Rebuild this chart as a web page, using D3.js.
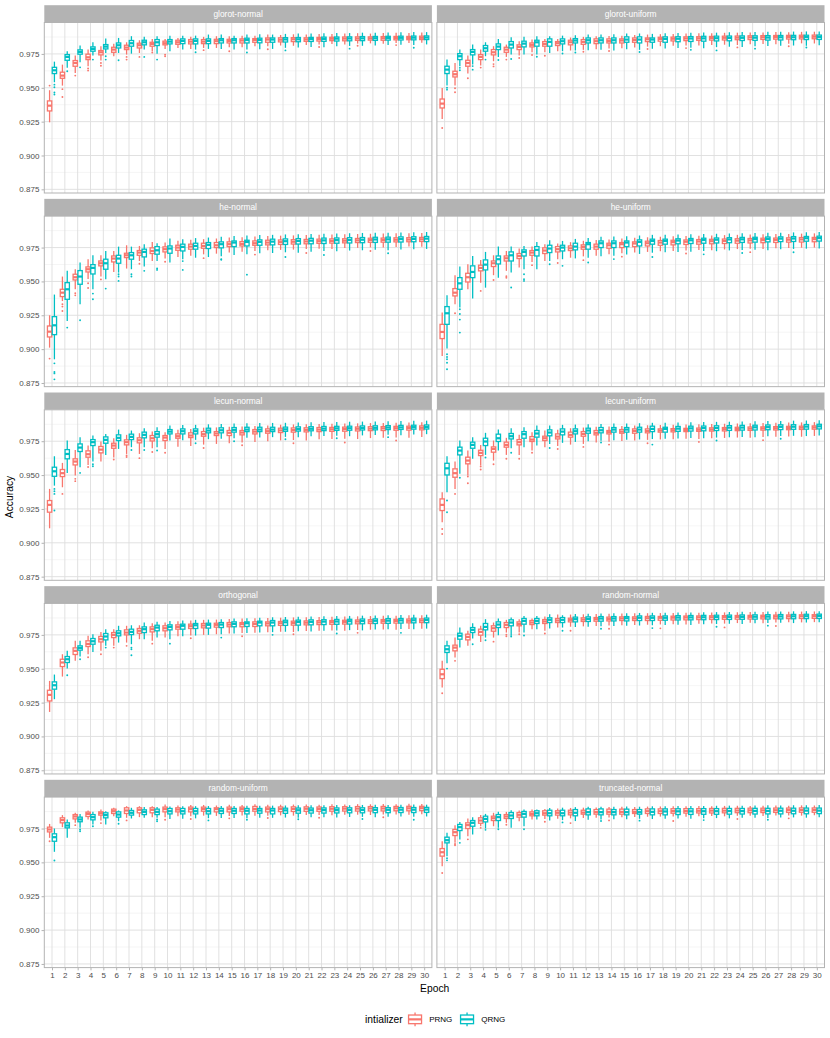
<html>
<head>
<script src="https://d3js.org/d3.v7.min.js"></script>
<style>
  body { margin: 0; background: #fff; }
  text { font-family: "Liberation Sans", Arial, Helvetica, sans-serif; }
</style>
</head>
<body>
<div id="chart"></div>
<script>
// accuracy values are written x1000; each box is [lower whisker, q1, median, q3, upper whisker]
const epochs = [1,2,3,4,5,6,7,8,9,10,11,12,13,14,15,16,17,18,19,20,21,22,23,24,25,26,27,28,29,30];
const seriesNames = ["PRNG", "QRNG"];
const seriesColors = ["#F8766D", "#00BFC4"];
const yMajor = [0.875, 0.900, 0.925, 0.950, 0.975];
const yMinor = [0.8875, 0.9125, 0.9375, 0.9625, 0.9875];

const glorotNormalPRNG = [
[924.5,932.9,936.8,940.3,948.2],[951.6,957.0,959.0,961.5,967.1],[961.0,965.9,968.3,970.1,973.8],[965.9,970.8,972.5,974.8,978.2],[970.1,974.3,976.2,977.5,980.7],
[973.3,976.2,978.2,979.9,982.6],[974.5,978.2,979.7,981.4,983.6],[975.7,979.4,981.4,982.9,985.1],[977.0,980.7,982.4,983.6,986.1],[978.7,981.7,982.9,984.4,986.1],
[979.4,982.1,983.6,985.1,986.8],[978.7,982.4,984.1,985.6,987.6],[979.4,982.6,984.1,985.6,987.6],[979.4,982.6,984.4,985.8,988.1],[979.9,983.1,984.6,985.8,988.1],
[979.9,983.1,984.9,986.1,988.5],[980.7,983.6,985.3,986.3,988.5],[980.7,983.6,985.6,986.8,989.3],[981.2,983.9,985.5,986.9,989.0],[981.0,984.1,985.8,987.0,989.5],
[981.6,984.3,985.7,986.9,989.4],[981.9,984.5,986.0,987.2,989.8],[982.3,984.8,986.2,987.3,989.7],[982.0,984.7,986.3,987.5,990.1],[982.6,985.0,986.4,987.6,990.3],
[982.8,985.2,986.5,987.6,990.0],[982.5,985.1,986.6,987.8,990.4],[983.1,985.4,986.8,987.9,990.6],[983.0,985.5,986.7,987.9,990.5],[983.3,985.6,986.9,988.1,990.8]];
const glorotNormalQRNG = [
[954.1,960.5,962.9,965.1,969.3],[964.7,970.3,972.8,974.5,977.0],[968.8,974.8,976.5,978.0,981.2],[973.8,977.0,978.7,980.2,983.6],[975.7,978.7,980.4,981.9,986.3],
[975.7,979.4,981.4,983.1,986.8],[975.2,980.7,982.9,984.9,988.1],[978.2,981.7,983.6,985.1,987.6],[975.2,981.2,983.6,985.6,988.1],[977.0,982.4,984.1,985.6,988.5],
[978.2,982.6,984.6,986.1,988.5],[978.2,982.4,984.6,986.1,988.5],[978.7,982.6,984.6,986.1,989.3],[978.7,983.1,985.1,986.3,989.3],[978.2,983.1,985.1,986.3,988.5],
[978.2,983.1,985.3,986.6,989.3],[978.4,983.2,985.3,986.6,989.5],[978.7,983.6,985.6,986.8,989.3],[979.5,983.8,985.7,987.0,989.8],[979.8,984.0,985.8,987.1,990.0],
[980.2,984.2,986.0,987.2,990.1],[980.0,984.3,986.1,987.4,990.2],[980.6,984.5,986.3,987.5,990.5],[980.9,984.7,986.4,987.6,990.4],[981.0,984.8,986.5,987.8,990.7],
[981.3,985.0,986.6,987.9,990.6],[981.5,985.2,986.8,988.0,990.9],[981.7,985.3,986.9,988.1,991.0],[981.6,985.4,987.0,988.2,991.2],[982.0,985.6,987.1,988.3,991.1]];
const glorotNormalPRNGOut = [[1,951.6],[2,949.0],[2,943.2],[3,959.0],[4,964.2],[4,962.7],[5,968.3],[5,966.3],[7,972.8],[7,970.8],[8,972.8],[9,976.0],[10,974.5],[10,973.3],[13,977.8],[15,977.0],[18,978.5],[22,980.1],[25,981.0],[28,981.5]];
const glorotNormalQRNGOut = [[1,952.3],[1,950.4],[1,946.5],[1,945.0],[2,962.2],[3,965.1],[4,970.8],[5,973.3],[5,970.8],[6,970.3],[8,972.8],[9,970.8],[12,976.2],[16,976.0],[19,977.6],[24,978.9],[29,979.6]];

const glorotUniformPRNG = [
[927.0,935.1,938.3,941.7,949.8],[951.6,958.0,960.0,962.2,968.3],[960.5,965.9,968.3,970.3,973.8],[966.4,970.8,972.8,974.5,978.2],[969.6,974.3,976.2,978.2,980.7],
[972.8,976.2,978.2,979.9,981.9],[973.8,978.2,980.2,981.7,984.4],[976.2,980.2,981.7,983.1,985.6],[976.2,980.7,982.4,984.1,986.1],[977.0,981.2,982.9,984.1,986.1],
[977.5,981.7,983.6,985.1,987.1],[978.0,982.1,983.9,985.6,987.6],[978.5,982.6,984.4,986.1,988.1],[979.0,983.1,984.6,986.1,988.3],[979.2,983.1,984.9,986.1,988.5],
[979.8,983.6,985.3,986.8,989.0],[980.4,984.1,985.8,986.8,989.3],[980.7,984.4,986.1,987.3,989.6],[981.0,984.6,986.2,987.4,989.8],[981.2,984.8,986.4,987.6,990.0],
[981.3,985.0,986.5,987.7,990.2],[981.6,985.2,986.7,987.9,990.3],[981.8,985.3,986.9,988.1,990.6],[981.6,985.5,987.0,988.2,990.7],[982.1,985.6,987.2,988.4,990.9],
[982.4,985.7,987.3,988.5,990.8],[982.2,985.9,987.4,988.6,991.1],[982.6,986.0,987.5,988.7,991.0],[982.8,986.1,987.6,988.8,991.3],[982.7,986.2,987.7,988.9,991.4]];
const glorotUniformQRNG = [
[951.6,960.5,963.4,965.9,970.8],[965.9,970.8,973.3,975.2,978.2],[967.1,974.3,976.5,978.2,981.9],[973.3,977.0,979.2,981.2,983.6],[972.8,978.2,980.4,982.4,986.1],
[974.5,979.4,981.9,984.1,987.3],[974.5,980.2,982.6,984.4,987.6],[974.5,980.7,983.6,985.1,988.1],[975.7,980.7,983.9,986.1,988.1],[977.0,982.4,984.4,986.1,988.5],
[977.5,983.1,984.9,986.3,988.8],[977.8,983.1,985.1,986.8,989.3],[978.0,983.1,985.1,986.8,989.3],[977.5,983.1,985.1,986.8,989.5],[978.5,983.6,985.6,987.6,990.0],
[978.0,983.1,985.6,987.6,990.1],[978.8,983.6,985.6,986.8,989.8],[979.0,983.6,986.1,987.6,990.3],[979.3,984.0,986.2,987.7,990.4],[979.5,984.2,986.4,987.8,990.6],
[979.2,984.4,986.5,988.0,990.8],[980.0,984.6,986.6,988.1,990.7],[980.3,984.7,986.8,988.2,991.0],[980.1,984.9,986.9,988.3,991.1],[980.6,985.0,987.0,988.4,991.2],
[980.8,985.2,987.1,988.5,991.4],[981.0,985.3,987.3,988.6,991.3],[981.2,985.5,987.3,988.7,991.5],[981.0,985.6,987.4,988.8,991.6],[981.4,985.7,987.5,988.9,991.5]];
const glorotUniformPRNGOut = [[1,920.3],[2,949.6],[2,946.7],[3,957.0],[4,964.9],[5,967.5],[5,965.8],[6,970.8],[7,972.0],[8,974.2],[9,973.6],[12,976.6],[14,977.2],[17,978.6],[20,979.3],[24,979.8],[28,980.7]];
const glorotUniformQRNGOut = [[1,950.0],[1,948.6],[2,964.7],[2,962.9],[3,966.0],[3,963.4],[4,970.8],[5,970.5],[6,971.2],[8,972.9],[10,975.3],[11,976.1],[16,976.4],[20,978.0],[22,977.6],[25,978.9],[29,979.7]];

const heNormalPRNG = [
[901.1,909.0,912.9,917.1,925.0],[935.5,938.8,941.7,944.2,953.6],[944.2,951.1,953.1,955.3,959.0],[951.8,957.0,959.0,960.7,966.4],[953.6,961.5,963.4,965.1,969.3],
[957.0,964.4,966.9,968.8,972.5],[959.5,967.6,969.3,970.8,976.7],[965.1,969.3,971.3,972.8,976.2],[965.1,970.6,972.5,974.8,979.2],[966.9,971.8,973.8,975.5,978.7],
[968.0,973.0,975.0,976.7,980.0],[969.0,973.8,975.7,977.5,980.7],[970.0,974.5,976.2,978.2,981.2],[970.5,975.0,976.7,978.7,981.7],[971.3,975.7,977.5,979.2,982.4],
[972.0,976.2,977.7,979.4,982.6],[972.4,976.7,978.2,979.9,983.1],[973.0,977.0,978.7,980.4,983.6],[973.3,977.3,979.0,980.6,983.8],[973.5,977.6,979.3,980.8,984.0],
[973.9,977.8,979.5,981.0,984.3],[974.2,978.1,979.7,981.2,984.5],[974.0,978.3,979.9,981.4,984.6],[974.6,978.5,980.1,981.5,984.8],[974.8,978.7,980.3,981.7,985.0],
[975.1,978.9,980.5,981.9,985.2],[975.0,979.0,980.6,982.0,985.3],[975.4,979.2,980.8,982.2,985.5],[975.7,979.3,980.9,982.3,985.6],[975.6,979.5,981.1,982.5,985.8]];
const heNormalQRNG = [
[892.5,910.7,917.6,924.0,940.3],[920.8,936.8,944.2,949.1,957.8],[933.1,947.9,953.6,958.0,963.9],[944.2,955.5,960.0,962.4,969.3],[951.6,959.0,963.4,966.4,972.5],
[956.5,963.4,966.9,969.3,975.7],[959.0,966.4,969.3,971.3,975.7],[961.0,968.1,971.8,973.8,977.5],[965.1,970.1,973.0,975.7,978.2],[963.9,970.8,974.3,976.2,981.7],
[966.4,972.5,975.5,977.5,981.2],[967.5,973.8,976.2,978.2,982.0],[968.0,974.3,977.0,978.7,982.4],[968.5,974.8,977.5,979.2,982.9],[969.5,975.7,978.7,979.9,983.6],
[970.0,976.2,979.2,980.4,984.0],[970.8,976.7,979.2,980.7,984.2],[971.0,977.0,979.4,981.2,984.4],[971.5,977.3,979.7,981.4,984.7],[971.2,977.6,979.9,981.6,984.9],
[972.0,977.8,980.1,981.8,985.1],[972.4,978.0,980.3,982.0,985.2],[972.2,978.2,980.5,982.1,985.4],[972.8,978.4,980.6,982.3,985.6],[973.0,978.6,980.8,982.4,985.8],
[973.3,978.8,981.0,982.6,985.9],[973.1,979.0,981.1,982.7,986.0],[973.6,979.1,981.3,982.9,986.2],[973.8,979.3,981.4,983.0,986.3],[974.0,979.4,981.6,983.2,986.5]];
const heNormalPRNGOut = [[1,893.0],[2,933.1],[2,931.4],[2,928.2],[3,941.3],[3,939.7],[4,948.6],[4,945.2],[5,951.5],[8,963.0],[10,964.5],[13,967.2],[17,969.8],[21,971.0],[26,972.5]];
const heNormalQRNGOut = [[1,889.5],[1,883.1],[1,882.1],[1,877.7],[2,915.9],[3,921.3],[4,941.0],[4,936.8],[5,944.7],[6,955.3],[6,953.6],[6,950.4],[7,955.3],[7,953.6],[8,957.8],[9,959.5],[9,958.5],[11,965.0],[11,958.5],[14,966.5],[14,966.0],[16,955.0],[19,968.0],[22,969.5],[27,970.8]];

const heUniformPRNG = [
[895.0,907.8,912.7,918.3,927.0],[933.1,939.3,941.7,944.7,954.6],[944.2,949.6,953.1,956.0,962.7],[949.1,957.8,960.0,962.0,965.9],[954.6,961.0,963.4,965.1,969.3],
[957.8,965.1,967.1,968.8,972.5],[960.2,966.9,968.8,970.6,974.3],[964.4,969.3,971.3,972.8,975.7],[965.1,970.6,972.8,974.8,977.5],[966.4,971.8,973.8,975.7,978.0],
[967.5,972.8,974.5,976.2,979.0],[968.5,973.8,975.5,977.0,980.0],[969.0,973.8,975.7,977.5,980.5],[970.0,974.5,976.7,978.2,981.0],[970.8,975.0,977.5,978.7,981.7],
[971.3,975.7,978.0,979.2,982.2],[971.8,976.2,978.2,979.7,982.6],[972.3,976.7,978.7,980.2,983.0],[972.5,977.0,979.0,980.4,983.3],[972.9,977.3,979.3,980.6,983.5],
[973.2,977.5,979.5,980.9,983.8],[973.0,977.8,979.7,981.1,984.0],[973.6,978.0,979.9,981.3,984.2],[973.9,978.2,980.1,981.5,984.4],[974.2,978.4,980.3,981.7,984.6],
[974.0,978.6,980.5,981.9,984.8],[974.5,978.8,980.7,982.0,985.0],[974.7,979.0,980.8,982.2,985.1],[974.9,979.1,981.0,982.4,985.3],[975.0,979.3,981.2,982.5,985.5]];
const heUniformQRNG = [
[900.4,918.3,926.5,931.4,939.8],[930.7,944.2,948.6,952.8,961.0],[937.3,952.8,957.0,961.5,968.8],[945.4,958.5,962.4,965.9,971.8],[952.8,962.9,966.4,968.8,975.7],
[956.5,965.1,969.3,971.8,975.7],[959.0,968.8,971.8,973.3,976.2],[959.0,968.8,973.3,975.7,979.2],[965.1,971.3,974.3,976.7,980.4],[966.4,972.5,975.0,976.7,979.9],
[967.0,973.3,975.7,978.2,981.4],[967.5,973.8,977.5,978.7,982.0],[968.5,975.0,978.2,979.9,983.0],[969.0,975.0,978.2,979.9,983.1],[969.8,975.7,978.7,979.9,983.4],
[970.3,976.2,979.2,980.7,983.9],[971.2,977.5,979.9,981.2,984.4],[971.5,977.5,979.9,981.2,984.5],[971.8,977.8,980.2,981.5,984.7],[972.0,978.0,980.4,981.7,984.9],
[972.5,978.2,980.6,981.9,985.0],[972.3,978.4,980.8,982.1,985.2],[972.9,978.6,981.0,982.3,985.4],[973.2,978.8,981.1,982.5,985.5],[973.4,979.0,981.3,982.6,985.7],
[973.0,979.2,981.4,982.8,985.9],[973.8,979.4,981.6,982.9,986.0],[974.0,979.5,981.7,983.1,986.2],[974.2,979.7,981.9,983.2,986.3],[974.4,979.8,982.0,983.4,986.5]];
const heUniformPRNGOut = [[2,926.5],[4,943.0],[5,951.0],[6,953.9],[6,952.7],[8,962.0],[10,963.6],[12,965.7],[15,968.3],[20,970.6],[25,971.6]];
const heUniformQRNGOut = [[1,896.2],[1,894.2],[1,892.5],[1,890.0],[1,885.1],[2,929.4],[2,926.0],[2,921.8],[2,912.2],[6,945.5],[7,955.3],[7,951.6],[7,950.4],[9,962.7],[10,961.5],[12,964.0],[14,966.5],[17,968.0],[21,970.0],[24,971.0],[28,971.5]];

const lecunNormalPRNG = [
[910.7,922.6,928.0,931.2,939.8],[941.0,948.9,951.4,954.1,959.0],[949.6,957.5,960.0,962.0,968.6],[957.5,963.2,965.4,967.9,971.8],[960.0,966.4,968.8,971.1,974.8],
[962.9,969.8,971.8,973.5,977.2],[965.6,972.3,974.3,976.0,979.7],[965.6,973.8,975.7,977.5,980.9],[969.8,975.2,977.2,979.2,982.1],[969.3,975.5,977.7,979.2,981.7],
[971.0,977.2,978.7,980.4,983.4],[971.5,977.7,979.2,981.2,984.0],[972.5,978.7,980.2,982.1,985.0],[973.0,979.2,980.7,982.1,985.2],[973.5,979.2,981.2,982.9,985.6],
[974.0,979.7,981.4,982.9,985.8],[974.5,980.4,982.1,983.6,986.3],[975.0,980.9,982.4,984.1,986.6],[975.6,981.4,983.0,984.6,987.2],[975.9,981.7,983.2,984.8,987.4],
[975.6,981.9,983.4,984.9,987.6],[976.4,982.1,983.6,985.1,987.7],[976.7,982.3,983.8,985.2,987.9],[976.9,982.4,984.0,985.4,988.1],[976.6,982.6,984.2,985.5,988.2],
[977.3,982.8,984.3,985.7,988.4],[977.5,982.9,984.5,985.8,988.5],[977.8,983.1,984.6,986.0,988.7],[977.6,983.2,984.8,986.1,988.9],[978.1,983.4,984.9,986.3,989.0]];
const lecunNormalQRNG = [
[942.2,949.1,952.8,955.8,963.9],[951.6,962.0,965.6,968.8,975.5],[955.8,967.4,970.3,973.0,978.0],[960.0,971.8,974.3,976.2,979.2],[964.9,973.5,976.0,978.2,980.4],
[969.3,975.5,977.5,979.7,983.6],[970.6,976.2,978.2,980.2,982.9],[970.6,977.5,979.7,981.7,984.6],[970.6,978.0,980.2,982.1,985.3],[975.5,980.4,982.1,983.6,986.6],
[975.8,980.4,982.4,984.1,987.0],[976.0,980.4,982.4,984.1,987.1],[976.5,981.2,982.9,984.6,987.5],[976.8,981.2,983.1,984.9,987.7],[977.2,981.7,983.4,985.1,988.0],
[977.5,982.1,983.6,985.3,988.2],[977.8,982.1,983.6,985.3,988.4],[978.0,982.1,983.6,985.3,988.5],[978.2,982.3,983.8,985.4,988.6],[978.0,982.5,984.0,985.6,988.8],
[978.6,982.7,984.2,985.7,989.0],[978.8,982.8,984.3,985.9,989.1],[979.0,983.0,984.5,986.0,989.2],[978.7,983.1,984.6,986.1,989.4],[979.3,983.3,984.8,986.3,989.5],
[979.5,983.4,984.9,986.4,989.6],[979.7,983.6,985.1,986.5,989.8],[979.4,983.7,985.2,986.7,989.9],[980.0,983.9,985.4,986.8,990.1],[980.2,984.0,985.5,987.0,990.2]];
const lecunNormalPRNGOut = [[2,936.1],[3,947.2],[3,945.5],[4,956.0],[6,961.5],[7,964.4],[7,963.4],[8,962.5],[9,967.0],[10,966.5],[13,970.0],[16,972.0],[20,973.5],[24,974.0],[28,975.5]];
const lecunNormalQRNGOut = [[1,939.8],[1,938.1],[1,936.1],[1,923.8],[3,951.6],[4,958.0],[4,956.5],[7,968.5],[8,968.5],[9,968.2],[12,973.5],[15,975.0],[19,976.4],[23,977.2],[27,978.0]];

const lecunUniformPRNG = [
[915.1,923.8,928.0,932.4,937.3],[939.8,948.4,951.4,954.6,960.0],[949.6,958.3,960.7,963.2,968.1],[957.0,964.4,966.4,968.3,972.3],[960.7,966.9,969.3,970.8,975.5],
[964.9,970.6,972.3,974.3,977.5],[964.9,972.3,974.3,976.2,979.7],[968.1,974.8,976.2,978.4,981.7],[970.6,975.5,977.2,978.7,982.9],[971.5,976.7,978.4,980.4,983.4],
[972.5,978.0,979.7,981.7,984.6],[973.0,978.7,980.4,982.1,985.1],[974.0,979.7,981.2,982.9,985.6],[974.6,980.4,981.7,982.9,985.9],[975.2,980.9,982.1,983.6,986.3],
[975.6,980.9,982.6,984.1,986.6],[976.0,981.2,982.6,984.1,986.8],[976.3,981.7,982.9,984.1,987.0],[976.5,981.9,983.1,984.3,987.2],[976.8,982.1,983.3,984.5,987.4],
[976.6,982.3,983.5,984.7,987.6],[977.2,982.5,983.7,984.9,987.7],[977.4,982.6,983.9,985.1,987.9],[977.7,982.8,984.1,985.3,988.1],[977.5,983.0,984.3,985.5,988.3],
[978.1,983.2,984.5,985.6,988.4],[978.3,983.3,984.6,985.8,988.6],[978.5,983.5,984.8,986.0,988.8],[978.3,983.7,985.0,986.1,988.9],[978.9,983.9,985.2,986.3,989.1]];
const lecunUniformQRNG = [
[937.3,950.1,955.0,958.7,963.9],[950.9,964.9,968.1,970.6,975.5],[962.0,969.8,972.3,974.3,978.0],[964.9,971.8,974.8,977.2,981.2],[968.1,974.8,977.2,980.2,983.6],
[969.8,976.7,978.7,980.7,984.6],[970.6,977.2,980.2,982.1,985.3],[971.8,978.0,980.7,982.9,986.6],[973.0,979.0,981.4,983.4,986.6],[973.8,979.7,982.1,984.1,987.1],
[974.5,980.4,982.4,984.1,987.3],[975.0,980.9,982.9,984.6,987.6],[975.4,981.2,983.1,985.1,987.8],[975.8,981.7,983.6,985.1,988.0],[976.0,981.7,983.6,985.1,988.1],
[976.3,981.7,983.6,985.3,988.3],[976.6,982.1,984.1,986.1,988.6],[976.8,981.7,984.1,985.3,988.6],[977.0,982.3,984.3,985.9,988.8],[977.3,982.5,984.5,986.1,989.0],
[977.1,982.7,984.7,986.2,989.1],[977.7,982.9,984.8,986.4,989.3],[977.9,983.0,985.0,986.5,989.4],[978.2,983.2,985.1,986.7,989.6],[978.0,983.3,985.3,986.8,989.7],
[978.6,983.5,985.4,987.0,989.9],[978.8,983.6,985.6,987.1,990.0],[979.0,983.8,985.7,987.2,990.2],[978.8,983.9,985.8,987.3,990.3],[979.3,984.1,986.0,987.5,990.5]];
const lecunUniformPRNGOut = [[1,910.2],[1,906.5],[2,936.1],[3,948.9],[3,944.0],[4,956.3],[4,954.1],[5,958.0],[6,962.0],[7,962.0],[8,966.5],[10,969.2],[12,970.8],[14,972.5],[17,973.5],[21,974.5],[26,975.8]];
const lecunUniformQRNGOut = [[1,931.2],[1,922.5],[2,948.0],[4,963.0],[6,966.5],[9,970.0],[13,974.0],[17,972.5],[22,975.5],[27,976.8]];

const orthogonalPRNG = [
[918.1,926.2,930.7,934.1,941.0],[944.2,951.6,954.6,957.0,960.7],[955.8,960.5,963.2,965.4,970.6],[960.7,966.4,968.3,970.6,974.3],[963.2,969.8,971.8,973.8,977.2],
[966.9,973.0,975.0,976.7,979.2],[969.3,975.0,976.7,978.7,981.7],[971.8,976.2,978.0,979.7,982.1],[970.6,977.2,979.2,980.9,983.6],[973.0,978.0,979.9,981.7,984.1],
[974.0,979.2,980.9,982.4,985.1],[974.5,979.7,981.4,982.9,985.6],[975.0,980.2,981.9,983.4,986.1],[975.5,980.7,982.4,983.6,986.3],[976.0,981.0,982.6,984.1,986.8],
[976.3,981.0,982.9,984.1,987.0],[976.6,981.2,983.1,984.6,987.3],[977.0,981.7,983.4,984.6,987.5],[977.3,982.0,983.6,984.9,987.7],[977.1,982.2,983.8,985.1,987.9],
[977.8,982.4,984.0,985.3,988.1],[978.0,982.6,984.2,985.5,988.2],[978.2,982.8,984.4,985.6,988.4],[978.0,983.0,984.6,985.8,988.6],[978.6,983.2,984.8,986.0,988.7],
[978.8,983.4,984.9,986.2,988.9],[979.0,983.6,985.1,986.3,989.1],[978.8,983.7,985.3,986.5,989.2],[979.4,983.9,985.4,986.7,989.4],[979.6,984.1,985.6,986.8,989.5]];
const orthogonalQRNG = [
[927.5,934.9,937.8,940.3,945.7],[950.1,954.6,957.0,959.0,963.2],[959.0,963.7,965.4,966.9,970.6],[962.4,968.1,970.3,972.3,975.5],[966.9,971.3,973.8,976.0,979.2],
[969.3,974.3,976.2,978.0,981.7],[968.1,975.2,977.2,979.2,982.1],[971.8,976.7,979.2,980.9,984.1],[973.0,978.0,980.4,982.1,984.6],[971.8,978.7,980.9,982.4,985.3],
[974.0,979.2,981.7,982.9,985.6],[974.5,979.7,982.1,983.4,986.1],[975.0,980.0,982.4,983.6,986.3],[975.5,980.4,982.6,984.1,986.6],[976.0,981.0,983.1,984.6,987.1],
[976.4,981.2,983.6,984.6,987.3],[976.8,981.7,984.1,985.1,987.6],[977.0,981.7,984.1,985.6,988.0],[977.3,982.0,984.3,985.8,988.2],[977.6,982.2,984.5,985.9,988.4],
[977.4,982.4,984.6,986.1,988.5],[978.0,982.6,984.8,986.2,988.7],[978.2,982.8,984.9,986.4,988.9],[978.5,983.0,985.1,986.5,989.0],[978.3,983.2,985.2,986.7,989.2],
[978.9,983.4,985.4,986.8,989.3],[979.1,983.5,985.5,987.0,989.5],[979.3,983.7,985.7,987.1,989.6],[979.1,983.9,985.8,987.3,989.8],[979.6,984.0,986.0,987.4,989.9]];
const orthogonalPRNGOut = [[4,958.5],[5,960.7],[6,965.6],[7,966.9],[9,968.5],[12,972.5],[16,974.0],[20,975.5],[25,976.5]];
const orthogonalQRNGOut = [[2,945.2],[3,957.0],[5,965.6],[7,965.6],[7,964.4],[7,959.9],[10,968.5],[14,973.0],[18,975.0],[23,976.0],[28,976.5]];

const randomNormalPRNG = [
[936.1,942.7,945.9,949.6,955.8],[958.3,963.2,965.6,967.4,973.0],[966.9,971.3,973.5,975.5,978.0],[969.8,974.8,977.2,979.2,981.7],[973.0,977.7,979.9,981.7,984.1],
[976.7,980.4,982.4,984.1,986.1],[976.7,981.7,983.1,984.6,986.6],[979.2,982.6,984.1,985.6,987.1],[978.0,983.4,984.9,986.3,988.5],[980.4,984.1,985.6,987.1,990.1],
[981.0,984.6,986.1,987.3,990.0],[981.3,984.9,986.3,987.6,990.2],[981.6,985.1,986.6,987.8,990.4],[981.9,985.3,986.8,988.1,990.6],[982.1,985.6,987.1,988.3,990.8],
[982.3,985.6,987.1,988.3,990.9],[982.5,985.6,987.3,988.6,991.0],[982.7,985.8,987.6,988.6,991.1],[982.9,986.0,987.7,988.8,991.2],[982.7,986.1,987.8,988.9,991.3],
[983.2,986.3,987.9,989.0,991.4],[983.4,986.4,988.0,989.1,991.5],[983.3,986.5,988.1,989.2,991.6],[983.7,986.6,988.2,989.3,991.7],[983.9,986.7,988.3,989.4,991.8],
[983.6,986.8,988.4,989.5,991.9],[984.1,986.9,988.5,989.6,992.0],[984.3,987.0,988.6,989.7,992.1],[984.2,987.1,988.7,989.8,992.2],[984.4,987.2,988.8,989.9,992.3]];
const randomNormalQRNG = [
[954.1,962.0,964.4,966.9,970.6],[965.6,971.8,974.3,976.2,980.4],[972.3,976.7,978.7,980.4,983.6],[973.0,978.7,980.9,983.4,986.6],[974.8,980.4,982.6,984.6,987.1],
[974.3,981.7,984.1,986.1,987.8],[976.7,982.9,985.3,987.1,989.0],[979.2,983.4,985.3,987.1,989.0],[979.7,984.1,986.1,987.6,990.3],[980.4,984.1,986.1,987.8,989.5],
[980.8,984.6,986.6,988.1,990.4],[981.0,984.9,986.8,988.3,990.6],[981.3,985.1,987.1,988.5,990.8],[981.5,985.3,987.1,988.5,990.9],[981.7,985.3,987.3,988.5,991.0],
[981.9,985.6,987.6,989.0,991.2],[982.1,985.6,987.6,989.0,991.3],[982.3,985.8,987.6,989.0,991.4],[982.5,986.0,987.8,989.2,991.5],[982.3,986.1,987.9,989.3,991.6],
[982.8,986.2,988.0,989.4,991.7],[983.0,986.3,988.1,989.5,991.8],[983.2,986.4,988.2,989.6,991.9],[983.0,986.5,988.3,989.7,992.0],[983.5,986.6,988.4,989.8,992.1],
[983.7,986.7,988.5,989.9,992.2],[983.9,986.8,988.6,990.0,992.3],[983.7,986.9,988.7,990.1,992.4],[984.1,987.0,988.8,990.2,992.5],[984.3,987.1,988.9,990.3,992.5]];
const randomNormalPRNGOut = [[1,931.9],[2,955.8],[5,970.0],[6,975.2],[6,974.0],[7,975.5],[9,976.0],[11,978.0],[14,979.5],[18,979.8],[23,980.5],[27,981.5]];
const randomNormalQRNGOut = [[1,950.1],[3,968.1],[4,971.0],[6,973.8],[7,974.5],[10,978.0],[13,979.5],[17,980.0],[22,981.0],[26,981.8]];

const randomUniformPRNG = [
[968.1,972.5,974.3,976.0,978.4],[976.0,979.2,981.2,982.9,984.9],[979.2,982.1,983.9,985.3,986.6],[981.7,983.9,985.8,987.1,988.3],[980.9,984.9,986.3,987.3,989.0],
[984.1,986.1,987.8,989.3,990.3],[982.9,986.1,988.3,990.3,991.5],[983.4,986.6,988.8,990.3,991.5],[983.4,986.6,988.8,990.3,991.5],[983.4,987.3,989.3,990.8,992.7],
[984.0,987.3,989.0,990.3,992.0],[984.0,987.3,989.3,990.8,992.3],[984.5,987.8,989.5,990.8,992.4],[984.3,987.3,989.3,990.3,992.0],[984.2,987.3,989.3,990.8,992.5],
[984.6,987.8,989.5,990.8,992.4],[984.4,987.8,989.5,991.3,993.0],[984.5,987.3,989.3,990.8,992.6],[984.7,987.5,989.4,990.9,992.6],[984.5,987.6,989.5,991.0,992.7],
[984.9,987.7,989.6,991.0,992.8],[985.0,987.7,989.5,990.9,992.6],[984.8,987.8,989.6,991.1,992.9],[985.1,987.9,989.7,991.1,992.8],[985.2,987.9,989.7,991.2,993.0],
[985.0,988.0,989.8,991.2,992.9],[985.3,988.0,989.8,991.3,993.1],[985.4,988.1,989.9,991.3,993.0],[985.2,988.1,989.9,991.4,993.2],[985.5,988.2,990.0,991.4,993.1]];
const randomUniformQRNG = [
[957.8,965.6,968.6,971.1,975.0],[968.1,975.5,977.2,979.2,981.7],[975.5,980.0,981.7,983.4,985.8],[978.0,981.4,983.4,985.3,987.3],[978.0,982.9,984.9,986.6,987.8],
[980.4,983.4,985.3,987.3,988.3],[982.4,984.9,986.6,988.3,990.3],[982.9,985.3,987.3,988.8,990.8],[982.9,985.3,987.3,989.3,990.8],[982.1,985.8,987.8,989.8,991.3],
[982.3,985.8,987.8,989.8,991.5],[982.5,985.8,987.8,989.8,991.5],[982.6,985.8,987.8,989.8,991.6],[982.7,986.1,988.1,989.8,991.6],[982.8,986.1,988.1,989.8,991.7],
[982.6,985.8,988.1,989.8,991.8],[983.0,986.3,988.3,989.8,991.8],[982.9,985.8,988.3,989.8,991.9],[983.1,986.2,988.4,990.0,992.0],[983.0,986.3,988.5,990.1,992.1],
[983.3,986.4,988.5,990.1,992.1],[983.4,986.4,988.6,990.2,992.2],[983.2,986.5,988.6,990.2,992.3],[983.5,986.6,988.7,990.3,992.2],[983.6,986.6,988.7,990.3,992.4],
[983.4,986.7,988.8,990.4,992.5],[983.7,986.7,988.8,990.4,992.4],[983.8,986.8,988.9,990.5,992.6],[983.6,986.8,988.9,990.5,992.7],[983.9,986.9,989.0,990.6,992.6]];
const randomUniformPRNGOut = [[1,965.6],[3,977.5],[5,979.0],[7,981.0],[10,981.5],[12,982.0],[15,982.5],[18,982.8],[22,983.0],[27,983.3]];
const randomUniformQRNGOut = [[1,951.4],[3,974.3],[3,973.0],[4,976.7],[6,978.5],[9,981.7],[9,980.4],[13,981.0],[16,981.5],[20,981.8],[25,982.0],[29,981.5]];

const truncatedNormalPRNG = [
[947.2,954.6,957.5,960.2,965.6],[964.4,969.8,972.3,974.3,977.5],[969.3,975.0,977.5,979.2,982.4],[976.7,978.9,980.9,982.9,984.9],[976.7,980.9,982.6,984.1,986.6],
[979.2,982.4,983.9,985.3,987.3],[980.4,983.4,985.1,986.8,988.3],[981.7,984.4,985.8,987.3,989.0],[982.0,984.9,986.3,988.1,989.5],[982.2,984.9,986.6,988.1,989.8],
[982.5,985.1,986.8,988.5,990.2],[982.8,985.6,986.8,988.5,990.4],[983.0,985.6,987.1,989.0,990.6],[983.2,985.6,987.3,989.3,990.8],[983.4,985.6,987.3,989.3,991.0],
[983.5,986.1,987.3,989.0,990.9],[983.7,986.1,987.8,989.5,991.2],[983.8,986.1,987.8,989.5,991.3],[983.9,986.3,987.9,989.6,991.4],[983.7,986.4,988.0,989.7,991.5],
[984.1,986.5,988.1,989.7,991.6],[984.2,986.5,988.2,989.8,991.5],[984.0,986.6,988.2,989.9,991.7],[984.4,986.7,988.3,989.9,991.8],[984.5,986.7,988.4,990.0,991.7],
[984.3,986.8,988.4,990.0,991.9],[984.6,986.9,988.5,990.1,992.0],[984.7,986.9,988.6,990.1,991.9],[984.5,987.0,988.6,990.2,992.1],[984.8,987.0,988.7,990.2,992.0]];
const truncatedNormalQRNG = [
[954.6,964.4,966.4,968.6,971.8],[966.9,973.5,976.0,978.0,979.9],[970.6,976.7,979.2,980.9,983.4],[975.0,979.9,982.1,984.1,985.8],[975.5,980.9,983.4,985.3,987.3],
[975.5,982.4,984.6,986.8,988.5],[976.7,983.4,985.8,987.6,989.0],[981.7,984.4,986.3,988.1,989.0],[981.0,984.4,986.3,988.5,990.2],[981.2,984.4,986.3,988.5,990.4],
[980.5,984.4,986.6,989.0,990.8],[981.5,985.1,987.1,989.5,991.0],[981.7,985.1,987.1,989.5,991.1],[981.8,985.1,987.1,989.0,991.0],[981.9,985.1,987.1,989.3,991.2],
[982.2,985.6,987.1,989.0,991.1],[982.0,985.1,987.3,989.5,991.4],[982.2,985.1,987.6,989.5,991.5],[982.4,985.3,987.7,989.6,991.6],[982.2,985.4,987.7,989.6,991.7],
[982.6,985.5,987.8,989.7,991.7],[982.7,985.5,987.8,989.7,991.8],[982.5,985.6,987.9,989.8,991.9],[982.9,985.7,987.9,989.8,991.8],[983.0,985.7,988.0,989.9,992.0],
[982.8,985.8,988.0,989.9,992.1],[983.1,985.8,988.1,990.0,992.0],[983.2,985.9,988.1,990.0,992.2],[983.0,985.9,988.2,990.1,992.2],[983.3,986.0,988.2,990.1,992.3]];
const truncatedNormalPRNGOut = [[1,942.2],[2,963.6],[2,962.7],[3,967.0],[4,975.5],[6,977.8],[9,980.0],[11,979.0],[14,981.0],[19,980.5],[24,982.0],[28,982.5]];
const truncatedNormalQRNGOut = [[1,953.0],[1,951.5],[2,964.4],[4,974.0],[5,974.5],[7,974.5],[10,979.5],[13,980.5],[16,980.8],[21,981.2],[26,981.5]];

const panels = [
  {name: "glorot-normal",    boxes: [glorotNormalPRNG, glorotNormalQRNG],       out: [glorotNormalPRNGOut, glorotNormalQRNGOut]},
  {name: "glorot-uniform",   boxes: [glorotUniformPRNG, glorotUniformQRNG],     out: [glorotUniformPRNGOut, glorotUniformQRNGOut]},
  {name: "he-normal",        boxes: [heNormalPRNG, heNormalQRNG],               out: [heNormalPRNGOut, heNormalQRNGOut]},
  {name: "he-uniform",       boxes: [heUniformPRNG, heUniformQRNG],             out: [heUniformPRNGOut, heUniformQRNGOut]},
  {name: "lecun-normal",     boxes: [lecunNormalPRNG, lecunNormalQRNG],         out: [lecunNormalPRNGOut, lecunNormalQRNGOut]},
  {name: "lecun-uniform",    boxes: [lecunUniformPRNG, lecunUniformQRNG],       out: [lecunUniformPRNGOut, lecunUniformQRNGOut]},
  {name: "orthogonal",       boxes: [orthogonalPRNG, orthogonalQRNG],           out: [orthogonalPRNGOut, orthogonalQRNGOut]},
  {name: "random-normal",    boxes: [randomNormalPRNG, randomNormalQRNG],       out: [randomNormalPRNGOut, randomNormalQRNGOut]},
  {name: "random-uniform",   boxes: [randomUniformPRNG, randomUniformQRNG],     out: [randomUniformPRNGOut, randomUniformQRNGOut]},
  {name: "truncated-normal", boxes: [truncatedNormalPRNG, truncatedNormalQRNG], out: [truncatedNormalPRNGOut, truncatedNormalQRNGOut]}
];

// layout
const W = 830, H = 1038;
const panelW = 387.6, panelH = 170.5, stripH = 17.3;
const colX = [44.3, 436.9];
const rowStep = 193.65, top0 = 5.2;
const grey70 = "#B3B3B3", gridMajor = "#DEDEDE", gridMinor = "#EFEFEF", textGrey = "#4D4D4D";
const boxLine = 1.3, medLine = 2.2;

const svg = d3.select("#chart").append("svg")
  .attr("width", W).attr("height", H)
  .style("background", "#fff");

const x = d3.scaleLinear().domain([0.4, 30.6]).range([0, panelW]);
const y = d3.scaleLinear().domain([0.8723, 0.9982]).range([panelH, 0]);
const dodge = 0.1875, halfW = 0.16875;
const lastRow = Math.floor((panels.length - 1) / 2);

panels.forEach((p, i) => {
  const col = i % 2, row = Math.floor(i / 2);
  const g = svg.append("g").attr("transform", `translate(${colX[col]},${top0 + row * rowStep})`);

  // strip
  g.append("rect").attr("width", panelW).attr("height", stripH).attr("fill", grey70);
  g.append("text")
    .attr("x", panelW / 2).attr("y", stripH / 2).attr("dy", "0.35em")
    .attr("text-anchor", "middle").attr("fill", "white").attr("font-size", "8.4px")
    .text(p.name);

  const pg = g.append("g").attr("transform", `translate(0,${stripH})`);
  pg.append("rect").attr("width", panelW).attr("height", panelH).attr("fill", "white");

  // grid
  pg.selectAll(".ymin").data(yMinor).join("line")
    .attr("x1", 0).attr("x2", panelW).attr("y1", d => y(d)).attr("y2", d => y(d))
    .attr("stroke", gridMinor).attr("stroke-width", 0.6);
  pg.selectAll(".ymaj").data(yMajor).join("line")
    .attr("x1", 0).attr("x2", panelW).attr("y1", d => y(d)).attr("y2", d => y(d))
    .attr("stroke", gridMajor).attr("stroke-width", 0.9);
  pg.selectAll(".xmaj").data(epochs).join("line")
    .attr("x1", d => x(d)).attr("x2", d => x(d)).attr("y1", 0).attr("y2", panelH)
    .attr("stroke", gridMajor).attr("stroke-width", 0.9);

  // boxplots
  p.boxes.forEach((stats, s) => {
    const off = s === 0 ? -dodge : dodge;
    const rows = stats.map((st, k) => ({e: epochs[k], lo: st[0] / 1000, q1: st[1] / 1000, med: st[2] / 1000, q3: st[3] / 1000, hi: st[4] / 1000}));
    const bg = pg.append("g").attr("stroke", seriesColors[s]).attr("fill", "white");
    const b = bg.selectAll("g").data(rows).join("g");
    b.append("line")
      .attr("x1", d => x(d.e + off)).attr("x2", d => x(d.e + off))
      .attr("y1", d => y(d.q3)).attr("y2", d => y(d.hi)).attr("stroke-width", boxLine);
    b.append("line")
      .attr("x1", d => x(d.e + off)).attr("x2", d => x(d.e + off))
      .attr("y1", d => y(d.q1)).attr("y2", d => y(d.lo)).attr("stroke-width", boxLine);
    b.append("rect")
      .attr("x", d => x(d.e + off - halfW)).attr("width", d => x(d.e + off + halfW) - x(d.e + off - halfW))
      .attr("y", d => y(d.q3)).attr("height", d => Math.max(0.5, y(d.q1) - y(d.q3)))
      .attr("stroke-width", boxLine);
    b.append("line")
      .attr("x1", d => x(d.e + off - halfW)).attr("x2", d => x(d.e + off + halfW))
      .attr("y1", d => y(d.med)).attr("y2", d => y(d.med)).attr("stroke-width", medLine);

    pg.append("g").selectAll("circle").data(p.out[s]).join("circle")
      .attr("cx", d => x(d[0] + off)).attr("cy", d => y(d[1] / 1000)).attr("r", 0.95)
      .attr("fill", seriesColors[s]);
  });

  // border
  pg.append("rect").attr("width", panelW).attr("height", panelH)
    .attr("fill", "none").attr("stroke", grey70).attr("stroke-width", 1);

  // axes
  if (col === 0) {
    const ya = pg.append("g").call(d3.axisLeft(y).tickValues(yMajor).tickSize(2.75).tickPadding(2.2).tickFormat(d3.format(".3f")));
    ya.select(".domain").remove();
    ya.selectAll("line").attr("stroke", grey70);
    ya.selectAll("text").attr("fill", textGrey).attr("font-size", "8px").attr("font-family", "Liberation Sans, Arial, sans-serif");
  }
  if (row === lastRow) {
    const xa = pg.append("g").attr("transform", `translate(0,${panelH})`)
      .call(d3.axisBottom(x).tickValues(epochs).tickSize(2.75).tickPadding(2.2).tickFormat(d3.format("d")));
    xa.select(".domain").remove();
    xa.selectAll("line").attr("stroke", grey70);
    xa.selectAll("text").attr("fill", textGrey).attr("font-size", "8px").attr("font-family", "Liberation Sans, Arial, sans-serif");
  }
});

// axis titles
svg.append("text").attr("x", 434.7).attr("y", 992).attr("text-anchor", "middle")
  .attr("font-size", "10.3px").attr("fill", "black").text("Epoch");
svg.append("text").attr("transform", "translate(13.3,497) rotate(-90)").attr("text-anchor", "middle")
  .attr("font-size", "10.3px").attr("fill", "black").text("Accuracy");

// legend
const leg = svg.append("g").attr("transform", "translate(0,1010.7)");
leg.append("text").attr("x", 365).attr("y", 8.65).attr("dy", "0.35em")
  .attr("font-size", "10.3px").attr("fill", "black").text("intializer");
const keyX = [406.4, 458.4], keyS = 17.3;
seriesNames.forEach((name, s) => {
  const k = leg.append("g").attr("transform", `translate(${keyX[s]},0)`).attr("stroke", seriesColors[s]).attr("stroke-width", boxLine);
  k.append("line").attr("x1", keyS / 2).attr("x2", keyS / 2).attr("y1", keyS * 0.1).attr("y2", keyS * 0.25);
  k.append("line").attr("x1", keyS / 2).attr("x2", keyS / 2).attr("y1", keyS * 0.75).attr("y2", keyS * 0.9);
  k.append("rect").attr("x", keyS * 0.125).attr("y", keyS * 0.25).attr("width", keyS * 0.75).attr("height", keyS * 0.5).attr("fill", "white");
  k.append("line").attr("x1", keyS * 0.125).attr("x2", keyS * 0.875).attr("y1", keyS / 2).attr("y2", keyS / 2).attr("stroke-width", medLine);
  leg.append("text").attr("x", keyX[s] + keyS + 5.5).attr("y", keyS / 2).attr("dy", "0.35em")
    .attr("font-size", "8px").attr("fill", "black").text(name);
});
</script>
</body>
</html>
